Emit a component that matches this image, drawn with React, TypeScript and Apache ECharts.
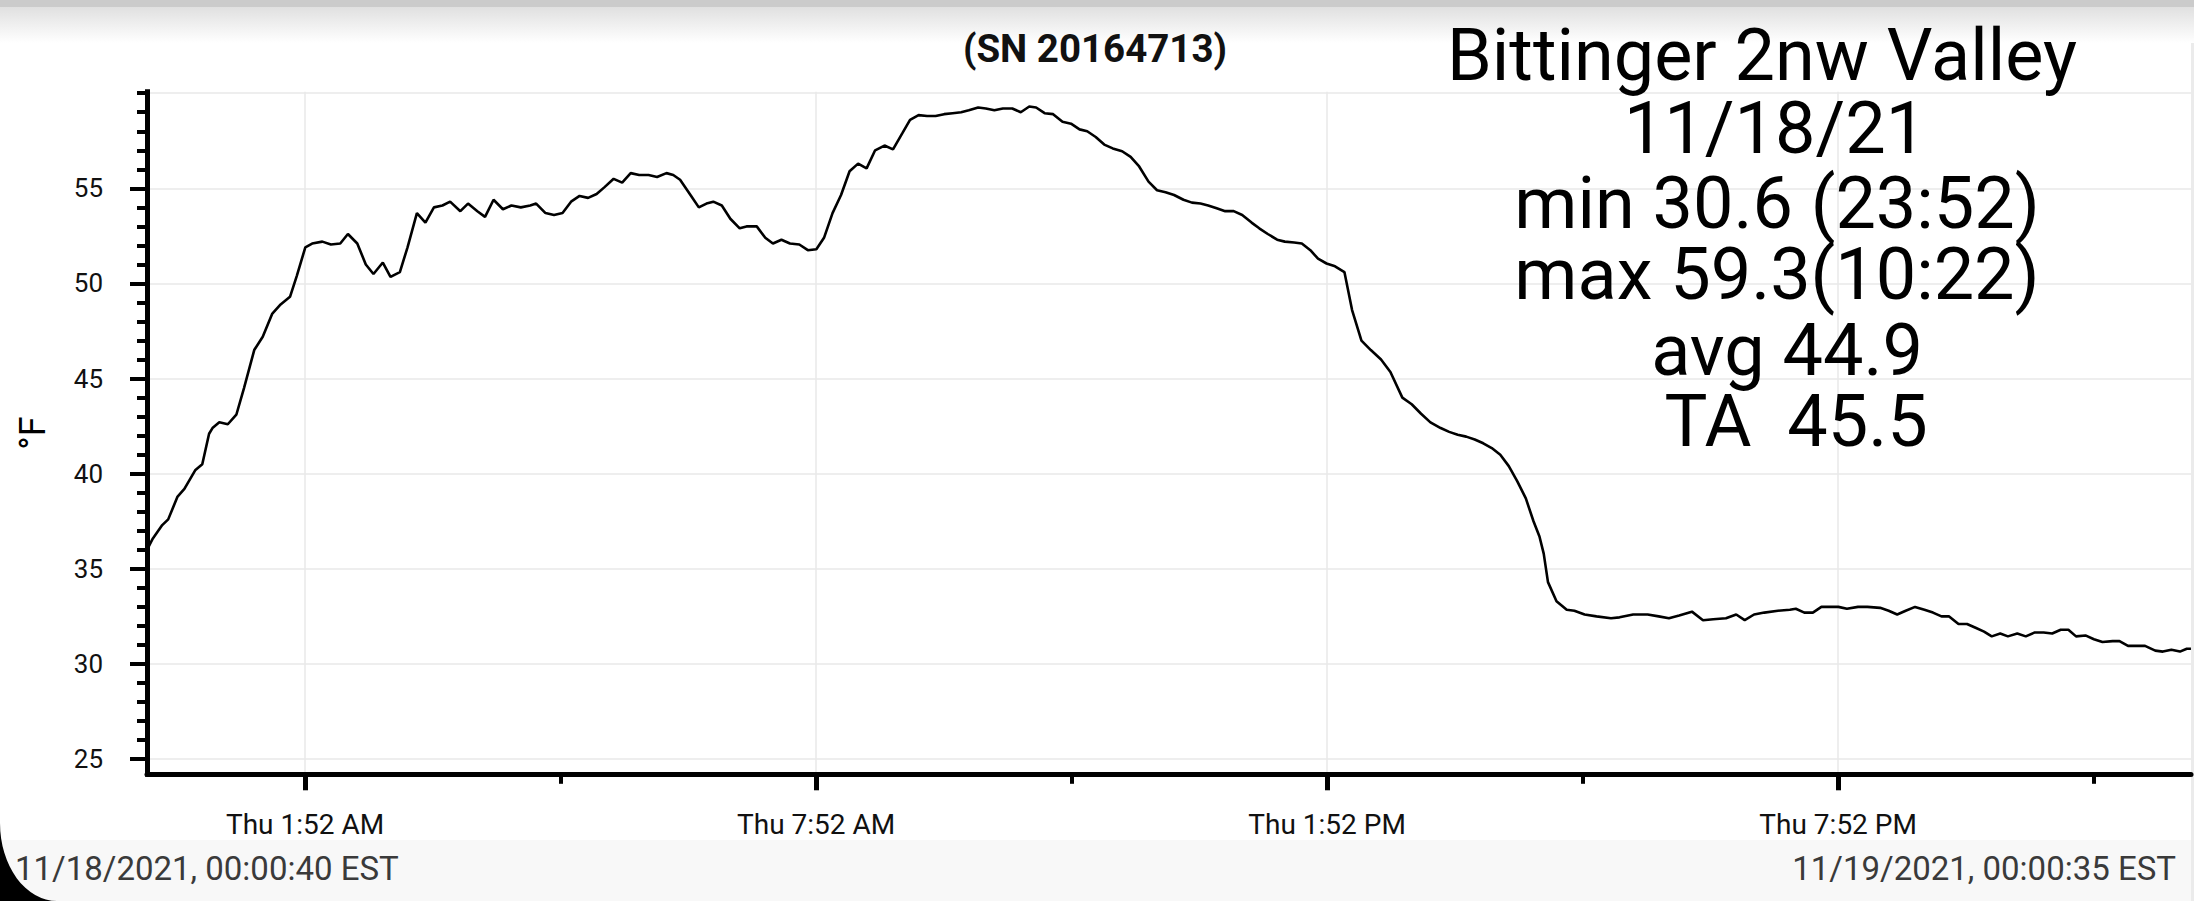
import React, { useEffect, useRef } from "react";
import * as echarts from "echarts";

// ---- data (hours since 11/18/2021 00:00 EST, temperature °F) ----
const hours = [
  0.011, 0.08, 0.19, 0.26, 0.37, 0.45, 0.58, 0.66, 0.70, 0.74, 0.78, 0.86, 0.96, 1.06, 1.15, 1.27, 1.37, 1.48, 1.58, 1.69,
  1.77, 1.87, 1.95, 2.07, 2.17, 2.28, 2.37, 2.48, 2.58, 2.67, 2.78, 2.87, 2.98, 3.07, 3.18, 3.28, 3.38, 3.48, 3.57, 3.69,
  3.78, 3.89, 3.98, 4.08, 4.19, 4.29, 4.40, 4.51, 4.58, 4.69, 4.79, 4.89, 4.99, 5.09, 5.19, 5.29, 5.38, 5.49, 5.59, 5.69,
  5.79, 5.90, 6.00, 6.11, 6.19, 6.27, 6.40, 6.49, 6.58, 6.66, 6.76, 6.86, 6.97, 7.05, 7.17, 7.27, 7.36, 7.46, 7.56, 7.67,
  7.77, 7.87, 7.96, 8.06, 8.16, 8.26, 8.36, 8.46, 8.56, 8.67, 8.77, 8.88, 8.97, 9.07, 9.17, 9.27, 9.37, 9.47, 9.57, 9.66,
  9.77, 9.86, 9.96, 10.06, 10.17, 10.27, 10.37, 10.45, 10.55, 10.65, 10.76, 10.86, 10.96, 11.05, 11.15, 11.25, 11.35, 11.46, 11.56, 11.66,
  11.77, 11.87, 11.97, 12.07, 12.18, 12.28, 12.38, 12.47, 12.57, 12.67, 12.77, 12.87, 12.98, 13.07, 13.17, 13.28, 13.37, 13.48, 13.57, 13.67,
  13.76, 13.86, 13.96, 14.07, 14.16, 14.27, 14.38, 14.50, 14.61, 14.75, 14.86, 14.97, 15.08, 15.20, 15.30, 15.40, 15.50, 15.60, 15.70, 15.80,
  15.90, 16.00, 16.10, 16.20, 16.29, 16.36, 16.41, 16.46, 16.56, 16.68, 16.77, 16.89, 17.03, 17.20, 17.30, 17.46, 17.63, 17.76, 17.88, 18.00,
  18.15, 18.28, 18.40, 18.55, 18.67, 18.77, 18.88, 19.00, 19.16, 19.30, 19.37, 19.47, 19.57, 19.67, 19.77, 19.87, 19.97, 20.10, 20.21, 20.36,
  20.46, 20.56, 20.66, 20.77, 20.88, 20.98, 21.08, 21.17, 21.28, 21.38, 21.48, 21.58, 21.67, 21.77, 21.86, 21.97, 22.07, 22.17, 22.28, 22.38,
  22.48, 22.57, 22.66, 22.77, 22.87, 22.97, 23.09, 23.17, 23.27, 23.37, 23.47, 23.59, 23.68, 23.78, 23.88, 23.96, 24.009,
];
const tempsF = [
  36.0, 36.6, 37.3, 37.6, 38.8, 39.2, 40.2, 40.5, 41.3, 42.1, 42.4, 42.7, 42.6, 43.1, 44.5, 46.5, 47.2, 48.4, 48.9, 49.3,
  50.4, 51.9, 52.1, 52.2, 52.05, 52.1, 52.6, 52.1, 51.0, 50.5, 51.1, 50.35, 50.6, 51.9, 53.7, 53.2, 54.0, 54.1, 54.3, 53.8,
  54.2, 53.8, 53.5, 54.4, 53.9, 54.1, 54.0, 54.1, 54.2, 53.7, 53.6, 53.7, 54.3, 54.6, 54.5, 54.7, 55.05, 55.5, 55.3, 55.8,
  55.7, 55.7, 55.6, 55.8, 55.7, 55.45, 54.6, 54.0, 54.2, 54.3, 54.1, 53.4, 52.9, 53.0, 53.0, 52.4, 52.1, 52.3, 52.1, 52.05,
  51.75, 51.8, 52.4, 53.7, 54.65, 55.9, 56.3, 56.05, 57.0, 57.25, 57.05, 57.9, 58.6, 58.85, 58.8, 58.8, 58.9, 58.95, 59.0, 59.1,
  59.25, 59.2, 59.1, 59.2, 59.2, 59.0, 59.3, 59.25, 58.95, 58.9, 58.5, 58.4, 58.1, 58.0, 57.7, 57.3, 57.1, 56.95, 56.65, 56.15,
  55.35, 54.9, 54.8, 54.65, 54.4, 54.25, 54.2, 54.1, 53.95, 53.8, 53.8, 53.6, 53.2, 52.9, 52.6, 52.3, 52.2, 52.15, 52.1, 51.75,
  51.3, 51.05, 50.9, 50.6, 48.6, 47.0, 46.5, 46.0, 45.35, 44.0, 43.65, 43.15, 42.7, 42.4, 42.2, 42.05, 41.95, 41.8, 41.6, 41.35,
  41.0, 40.4, 39.6, 38.7, 37.5, 36.7, 35.8, 34.3, 33.3, 32.85, 32.8, 32.6, 32.5, 32.4, 32.45, 32.6, 32.6, 32.5, 32.4, 32.55,
  32.75, 32.3, 32.35, 32.4, 32.6, 32.3, 32.6, 32.7, 32.8, 32.85, 32.9, 32.7, 32.7, 33.0, 33.0, 33.0, 32.9, 33.0, 33.0, 32.95,
  32.8, 32.6, 32.8, 33.0, 32.85, 32.7, 32.5, 32.5, 32.1, 32.1, 31.9, 31.7, 31.45, 31.6, 31.45, 31.6, 31.45, 31.65, 31.65, 31.6,
  31.8, 31.8, 31.45, 31.5, 31.3, 31.15, 31.2, 31.2, 30.95, 30.95, 30.95, 30.7, 30.65, 30.75, 30.65, 30.8, 30.8,
];

// ---- axes ----
const xStartHour = 0.0111; // 00:00:40
const xEndHour = 24.0097; // 00:00:35 next day
const xMajorHours = [1.8667, 7.8667, 13.8667, 19.8667];
const xMajorLabels = ["Thu 1:52 AM", "Thu 7:52 AM", "Thu 1:52 PM", "Thu 7:52 PM"];
const xMinorHours = [4.8667, 10.8667, 16.8667, 22.8667];
const yMin = 24.2;
const yMax = 60.08;
const yMajorTicks = [25, 30, 35, 40, 45, 50, 55];
const yMinorTicks = [26, 27, 28, 29, 31, 32, 33, 34, 36, 37, 38, 39, 41, 42, 43, 44, 46, 47, 48, 49, 51, 52, 53, 54, 56, 57, 58, 59, 60];
const yGridLines = [25, 30, 35, 40, 45, 50, 55, 60];

// ---- texts ----
const titleText = "(SN 20164713)";
const infoLines = ["Bittinger 2nw Valley", "11/18/21", "min 30.6 (23:52)", "max 59.3(10:22)", "avg 44.9", "TA  45.5"];
const infoCenterX = [1762, 1775, 1777, 1777, 1787, 1796];
const infoCenterY = [55, 128, 203, 274, 350, 421];
const startStamp = "11/18/2021, 00:00:40 EST";
const endStamp = "11/19/2021, 00:00:35 EST";
const yName = "°F";

const FONT = "Roboto, 'Noto Sans', 'DejaVu Sans', sans-serif";

echarts.graphic.registerShape(
  "screenCorner",
  echarts.graphic.extendPath("M0 823 A57 78 0 0 0 57 901 L0 901 Z", {}) as any
);

export default function App() {
  const ref = useRef<HTMLDivElement>(null);

  useEffect(() => {
    document.body.style.margin = "0";
    if (!ref.current) return;
    const chart = echarts.init(ref.current, undefined, { renderer: "svg" });

    const data = hours.map((h, i) => [h, tempsF[i]]);

    const infoTexts = infoLines.map((t, i) => ({
      type: "text",
      x: infoCenterX[i],
      y: infoCenterY[i],
      z: 10,
      style: {
        text: t,
        fontSize: 72,
        lineHeight: 64,
        fontFamily: FONT,
        fill: "#000",
        align: "center",
        verticalAlign: "middle",
        textAlign: "center",
        textVerticalAlign: "middle",
      },
    }));

    const option: any = {
      animation: false,
      backgroundColor: "#ffffff",
      grid: {
        left: 147,
        top: 91.7,
        width: 2044,
        height: 682.6,
        containLabel: false,
        outerBoundsMode: "none",
      },
      xAxis: [
        {
          type: "value",
          min: xStartHour,
          max: xEndHour,
          position: "bottom",
          axisLine: { show: true, onZero: false, lineStyle: { color: "#000", width: 5 } },
          axisTick: { show: true, customValues: xMajorHours, length: 16, lineStyle: { color: "#000", width: 5 } },
          axisLabel: {
            show: true,
            customValues: xMajorHours,
            formatter: (v: number) => {
              let best = 0;
              xMajorHours.forEach((h, i) => {
                if (Math.abs(h - v) < Math.abs(xMajorHours[best] - v)) best = i;
              });
              return xMajorLabels[best];
            },
            fontSize: 28,
            fontFamily: FONT,
            color: "#111",
            margin: 36,
          },
          splitLine: { show: true, lineStyle: { color: "#e8e8e8", width: 1.5 } },
        },
        {
          type: "value",
          min: xStartHour,
          max: xEndHour,
          position: "bottom",
          axisLine: { show: false, onZero: false },
          axisTick: { show: true, customValues: xMinorHours, length: 9.5, lineStyle: { color: "#000", width: 4 } },
          axisLabel: { show: false },
          splitLine: { show: false },
        },
      ],
      yAxis: [
        {
          type: "value",
          min: yMin,
          max: yMax,
          position: "left",
          name: yName,
          nameLocation: "middle",
          nameRotate: 90,
          nameGap: 96,
          nameTextStyle: { fontSize: 36, fontFamily: FONT, color: "#000" },
          axisLine: { show: true, onZero: false, lineStyle: { color: "#000", width: 5, cap: "square" } },
          axisTick: { show: true, customValues: yMajorTicks, length: 17, lineStyle: { color: "#000", width: 4 } },
          axisLabel: {
            show: true,
            customValues: yMajorTicks,
            fontSize: 26,
            fontFamily: FONT,
            color: "#111",
            margin: 44,
          },
          splitLine: { show: false },
        },
        {
          type: "value",
          min: yMin,
          max: yMax,
          position: "left",
          axisLine: { show: false, onZero: false },
          axisTick: { show: true, customValues: yMinorTicks, length: 10, lineStyle: { color: "#000", width: 4 } },
          axisLabel: { show: false },
          splitLine: { show: false },
        },
        {
          type: "value",
          min: yMin,
          max: yMax,
          position: "left",
          axisLine: { show: false, onZero: false },
          axisTick: { show: false, customValues: yGridLines },
          axisLabel: { show: false },
          splitLine: { show: true, lineStyle: { color: "#e8e8e8", width: 1.5 } },
        },
      ],
      series: [
        {
          type: "line",
          xAxisIndex: 0,
          yAxisIndex: 0,
          data,
          showSymbol: false,
          symbol: "none",
          lineStyle: { color: "#000", width: 2.6 },
          z: 5,
        },
      ],
      graphic: [
        { type: "rect", z: 0, shape: { x: 0, y: 840, width: 2194, height: 61 }, style: { fill: "#f8f8f8" } },
        { type: "rect", z: 0, shape: { x: 2191, y: 40, width: 3, height: 861 }, style: { fill: "#ebebeb" } },
        { type: "rect", z: 1, shape: { x: 0, y: 0, width: 2194, height: 7 }, style: { fill: "#cbcbcb" } },
        {
          type: "rect",
          z: 1,
          shape: { x: 0, y: 7, width: 2194, height: 36 },
          style: {
            fill: {
              type: "linear",
              x: 0,
              y: 0,
              x2: 0,
              y2: 1,
              colorStops: [
                { offset: 0, color: "#e0e0e0" },
                { offset: 1, color: "#ffffff" },
              ],
            },
          },
        },
        {
          type: "text",
          x: 1095,
          y: 48,
          z: 10,
          style: {
            text: titleText,
            fontSize: 38.5,
            fontWeight: "bold",
            fontFamily: FONT,
            fill: "#111",
            align: "center",
            verticalAlign: "middle",
            textAlign: "center",
            textVerticalAlign: "middle",
          },
        },
        ...infoTexts,
        {
          type: "text",
          x: 15,
          y: 868,
          z: 10,
          style: {
            text: startStamp,
            fontSize: 33,
            fontFamily: FONT,
            fill: "#3a3a3a",
            align: "left",
            verticalAlign: "middle",
            textAlign: "left",
            textVerticalAlign: "middle",
          },
        },
        {
          type: "text",
          x: 2176,
          y: 868,
          z: 10,
          style: {
            text: endStamp,
            fontSize: 33,
            fontFamily: FONT,
            fill: "#3a3a3a",
            align: "right",
            verticalAlign: "middle",
            textAlign: "right",
            textVerticalAlign: "middle",
          },
        },
        { type: "screenCorner", x: 0, y: 0, z: 20, style: { fill: "#000" } },
      ],
    };

    chart.setOption(option);
    return () => chart.dispose();
  }, []);

  return (
    <div
      ref={ref}
      style={{ position: "fixed", left: 0, top: 0, width: 2194, height: 901, background: "#fff" }}
    />
  );
}
